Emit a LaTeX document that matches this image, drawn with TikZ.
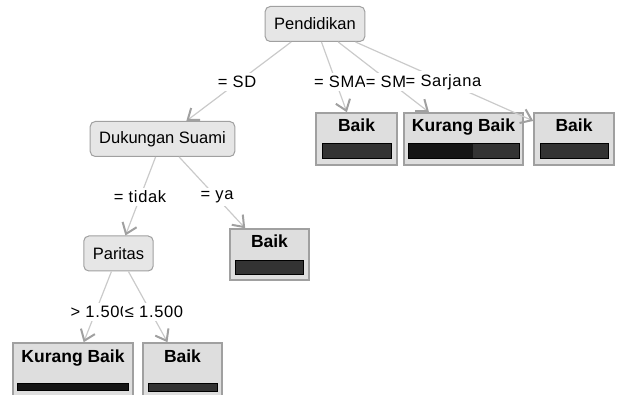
\documentclass[tikz,border=0pt]{standalone}
\usepackage{fontspec}
\setmainfont{Liberation Sans}
\newfontfamily\edgefont[LetterSpace=4]{Liberation Sans}
\usepackage{tikz}
\usetikzlibrary{arrows.meta}
\usetikzlibrary{positioning}

\definecolor{nodegray}{HTML}{E6E6E6}
\definecolor{leafgray}{HTML}{DEDEDE}
\definecolor{framegray}{HTML}{A0A0A0}
\definecolor{edgegray}{HTML}{CACACA}
\definecolor{tipgray}{HTML}{A0A0A0}
\definecolor{barfill}{HTML}{333333}
\definecolor{bardark}{HTML}{151515}

\begin{document}
\begin{tikzpicture}[x=1pt,y=-1pt,
		split node/.style={rectangle,rounded corners=5pt,draw=framegray,fill=nodegray,
			line width=1pt,font=\fontsize{16.5}{20}\selectfont,minimum height=35pt,inner xsep=9pt},
		leaf node/.style={rectangle,draw=framegray,fill=leafgray,line width=1.5pt,inner sep=0pt},
		leaf title/.style={font=\bfseries\fontsize{17.5}{20}\selectfont,inner sep=2pt},
		bar/.style={rectangle,draw=black,fill=barfill,line width=1pt,inner sep=0pt},
		edge label/.style={fill=white,font=\edgefont\fontsize{16.5}{18}\selectfont,
			inner xsep=1pt,inner ysep=3pt}]
	
	\useasboundingbox (0,0) rectangle (619,395);
	
	\node[split node] (pend) at (315,24) {Pendidikan};
	\node[split node] (duk) at (162.5,139) {Dukungan Suami};
	\node[split node] (par) at (118.5,253.5) {Paritas};
	
	% leaves
	\node[leaf node,minimum width=81pt,minimum height=52pt] (sma) at (356.5,139) {};
	\node[leaf title,below=4pt of sma.north] (smaTitle) {Baik};
	\node[bar,minimum width=69pt,minimum height=15pt,above=7pt of sma.south] (smaBar) {};
	
	\node[leaf node,minimum width=119pt,minimum height=52pt] (sm) at (463.5,139) {};
	\node[leaf title,below=4pt of sm.north] (smTitle) {Kurang Baik};
	\node[bar,minimum width=111pt,minimum height=15pt,above=7pt of sm.south,
		path picture={\fill[bardark] (path picture bounding box.south west)
			rectangle ([xshift=65pt]path picture bounding box.north west);}] (smBar) {};
	
	\node[leaf node,minimum width=80pt,minimum height=52pt] (sarjana) at (574,139) {};
	\node[leaf title,below=4pt of sarjana.north] (sarjanaTitle) {Baik};
	\node[bar,minimum width=68pt,minimum height=15pt,above=7pt of sarjana.south] (sarjanaBar) {};
	
	\node[leaf node,minimum width=79pt,minimum height=51pt] (ya) at (269.5,254.5) {};
	\node[leaf title,below=4pt of ya.north] (yaTitle) {Baik};
	\node[bar,minimum width=68pt,minimum height=14pt,above=6pt of ya.south] (yaBar) {};
	
	\node[leaf node,minimum width=120pt,minimum height=53pt] (high) at (73,369.5) {};
	\node[leaf title,below=5pt of high.north] (highTitle) {Kurang Baik};
	\node[bar,minimum width=111pt,minimum height=7pt,fill=bardark,above=6pt of high.south] (highBar) {};
	
	\node[leaf node,minimum width=79pt,minimum height=53pt] (low) at (182.5,369.5) {};
	\node[leaf title,below=5pt of low.north] (lowTitle) {Baik};
	\node[bar,minimum width=69pt,minimum height=8pt,above=5pt of low.south] (lowBar) {};
	
	\path[draw=edgegray,line width=1.2pt,
		-{Straight Barb[length=10pt,width=15pt,color=tipgray,line width=2pt]}]
	(pend) edge (duk)
	(pend) edge (sma)
	(pend) edge (sm)
	(pend) edge (sarjana)
	(duk) edge (par)
	(duk) edge (ya)
	(par) edge (high)
	(par) edge (low);
	
	\node[edge label] (lSD) at (237,82) {= SD};
	\node[edge label] (lSMA) at (340,82) {= SMA};
	\node[edge label] (lSM) at (386,82) {= SM};
	\node[edge label,inner xsep=0.5pt] (lSarjana) at (443.5,82) {= Sarjana};
	\node[edge label] (lTidak) at (140,197) {= tidak};
	\node[edge label] (lYa) at (217,197) {= ya};
	\node[edge label] (lHigh) at (100,312) {> 1.500};
	\node[edge label,inner xsep=2pt] (lLow) at (154,312) {≤ 1.500};
\end{tikzpicture}
\end{document}
